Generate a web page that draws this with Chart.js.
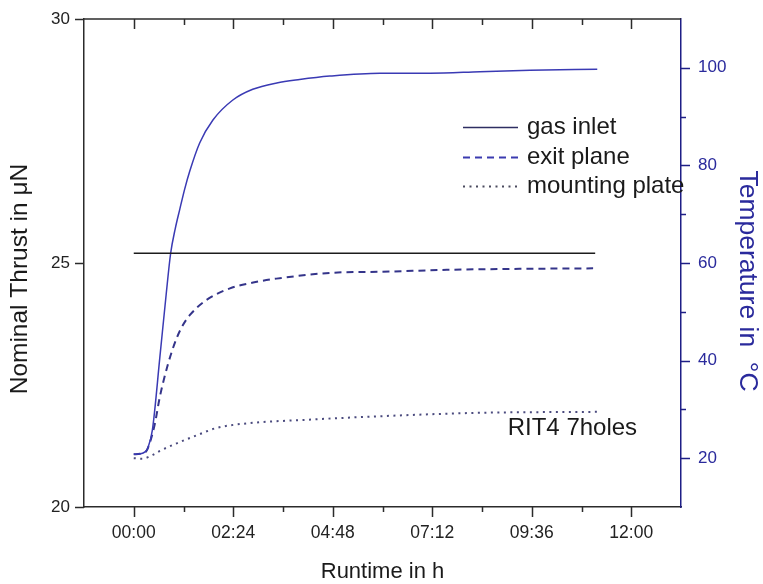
<!DOCTYPE html>
<html lang="en">
<head>
<meta charset="UTF-8">
<title>RIT4 7holes - thrust and temperature</title>
<script src="https://cdn.jsdelivr.net/npm/chart.js"></script>
<style>
    body { margin: 0; padding: 0; background: #fff; }
    canvas { display: block; }
</style>
</head>
<body>
<canvas id="myChart" width="763" height="584"></canvas>
<script>
// Runtime in hours
const thrustTime  = [0, 11.13];
const thrustValue = [25.2, 25.2];

const gasInletTime = [0, 0.15, 0.27, 0.34, 0.45, 0.63, 0.78, 0.89, 1.0, 1.11, 1.23, 1.35, 1.59, 1.91, 2.39, 2.87, 3.45, 4.0, 4.73, 5.94, 7.15, 8.35, 9.56, 11.18];
const gasInletTemp = [20.8, 20.9, 21.3, 22.1, 25.8, 40.7, 53.4, 62.0, 67.0, 71.0, 75.2, 78.8, 84.6, 89.3, 93.4, 95.6, 96.9, 97.6, 98.3, 98.9, 98.9, 99.2, 99.5, 99.7];

const exitTime = [0, 0.15, 0.3, 0.4, 0.51, 0.63, 0.83, 1.03, 1.18, 1.35, 1.75, 2.32, 2.88, 3.44, 4.8, 5.94, 7.55, 9.3, 11.08];
const exitTemp = [20.8, 20.9, 21.4, 23.5, 27.1, 32.6, 39.4, 44.5, 47.2, 49.3, 52.4, 54.8, 56.0, 56.8, 58.0, 58.2, 58.6, 58.8, 58.9];

const plateTime = [0, 0.2, 0.46, 0.63, 1.11, 1.55, 2.0, 2.8, 4.0, 5.94, 8.35, 11.2];
const plateTemp = [20.0, 19.9, 20.7, 21.5, 23.3, 24.8, 26.2, 27.2, 27.8, 28.6, 29.3, 29.5];

// Tick labels
const xTickHours  = [0, 2.4, 4.8, 7.2, 9.6, 12];
const xTickLabels = ['00:00', '02:24', '04:48', '07:12', '09:36', '12:00'];
const tempTickLabels = [20, 40, 60, 80, 100];

const legendLabels = ['gas inlet', 'exit plane', 'mounting plate'];
const legendColors = ['#2e2e62', '#3b3bb0', '#4a4a5e'];

const FONT = "'Liberation Sans', Arial, sans-serif";
const AXIS_DARK = '#2b2b2b';
const AXIS_BLUE = '#1e1e86';

function pts(xs, ys) {
    return xs.map((x, i) => ({ x: x, y: ys[i] }));
}

// invisible library ticks: they only push the labels away from the axis
function hiddenGrid(len) {
    return { display: true, drawOnChartArea: false, drawTicks: true, tickLength: len, tickColor: 'rgba(0,0,0,0)' };
}

// Ticks, top frame line, rotated axis titles, legend and label
const framePlugin = {
    id: 'frame',
    afterDraw(chart) {
        const ctx = chart.ctx;
        const area = chart.chartArea;
        const xs = chart.scales.x;
        const yl = chart.scales.y;
        const yr = chart.scales.y2;

        ctx.save();
        // top frame line
        ctx.strokeStyle = AXIS_DARK;
        ctx.lineWidth = 1.5;
        ctx.beginPath();
        ctx.moveTo(area.left, area.top);
        ctx.lineTo(area.right, area.top);
        ctx.stroke();

        // x ticks: bottom outward, top inward
        xs.ticks.forEach(t => {
            if (t.value <= xs.min + 1e-6 || t.value >= xs.max - 1e-6) return;
            const px = Math.round(xs.getPixelForValue(t.value)) + 0.5;
            const major = xTickHours.some(h => Math.abs(h - t.value) < 1e-6);
            ctx.beginPath();
            ctx.moveTo(px, area.bottom);
            ctx.lineTo(px, area.bottom + (major ? 10 : 5));
            ctx.moveTo(px, area.top);
            ctx.lineTo(px, area.top + (major ? 10 : 6));
            ctx.stroke();
        });

        // left ticks, outward
        yl.ticks.forEach(t => {
            const py = Math.round(yl.getPixelForValue(t.value)) + 0.5;
            ctx.beginPath();
            ctx.moveTo(area.left, py);
            ctx.lineTo(area.left - 9, py);
            ctx.stroke();
        });

        // right ticks, outward
        ctx.strokeStyle = AXIS_BLUE;
        yr.ticks.forEach(t => {
            if (t.value <= yr.min || t.value >= yr.max) return;
            const py = Math.round(yr.getPixelForValue(t.value)) + 0.5;
            const major = tempTickLabels.includes(t.value);
            ctx.beginPath();
            ctx.moveTo(area.right, py);
            ctx.lineTo(area.right + (major ? 9 : 5), py);
            ctx.stroke();
        });

        // axis titles
        ctx.textAlign = 'center';
        ctx.textBaseline = 'middle';
        ctx.fillStyle = '#1a1a1a';
        ctx.font = '24.5px ' + FONT;
        ctx.save();
        ctx.translate(20, 279);
        ctx.rotate(-Math.PI / 2);
        ctx.fillText('Nominal Thrust in \u03bcN', 0, 0);
        ctx.restore();

        ctx.fillStyle = '#2a2a9c';
        ctx.font = '26.5px ' + FONT;
        ctx.save();
        ctx.translate(747, 281);
        ctx.rotate(Math.PI / 2);
        ctx.fillText('Temperature in  \u00b0C', 0, 0);
        ctx.restore();

        // legend
        ctx.font = '24px ' + FONT;
        const lx0 = area.left + 379;
        const lx1 = area.left + 434;
        const rows = [127, 157, 186];
        ctx.textAlign = 'left';
        chart.data.datasets.slice(1).forEach((ds, i) => {
            const y = rows[i] + 0.5;
            ctx.strokeStyle = legendColors[i];
            ctx.lineWidth = ds.borderWidth;
            ctx.setLineDash(ds.borderDash || []);
            ctx.beginPath();
            ctx.moveTo(lx0, y);
            ctx.lineTo(lx1, y);
            ctx.stroke();
            ctx.setLineDash([]);
            ctx.fillStyle = '#1a1a1a';
            ctx.fillText(legendLabels[i], lx1 + 9, rows[i]);
        });

        // sample label
        ctx.textBaseline = 'alphabetic';
        ctx.fillStyle = '#1a1a1a';
        ctx.fillText('RIT4 7holes', xs.getPixelForValue(9.02), yr.getPixelForValue(24.8));
        ctx.restore();
    }
};

const ctx = document.getElementById('myChart').getContext('2d');
const myChart = new Chart(ctx, {
    type: 'line',
    data: {
        datasets: [
            {
                label: 'Nominal thrust',
                data: pts(thrustTime, thrustValue),
                yAxisID: 'y',
                borderColor: '#1c1c1c',
                borderWidth: 1.5,
                pointRadius: 0
            },
            {
                label: 'gas inlet',
                data: pts(gasInletTime, gasInletTemp),
                yAxisID: 'y2',
                borderColor: '#3a3ab4',
                borderWidth: 1.5,
                pointRadius: 0,
                cubicInterpolationMode: 'monotone'
            },
            {
                label: 'exit plane',
                data: pts(exitTime, exitTemp),
                yAxisID: 'y2',
                borderColor: '#34348a',
                borderWidth: 2,
                borderDash: [7, 5],
                pointRadius: 0,
                cubicInterpolationMode: 'monotone'
            },
            {
                label: 'mounting plate',
                data: pts(plateTime, plateTemp),
                yAxisID: 'y2',
                borderColor: '#4a4a7e',
                borderWidth: 2,
                borderDash: [2, 4.5],
                pointRadius: 0,
                cubicInterpolationMode: 'monotone'
            }
        ]
    },
    options: {
        responsive: false,
        animation: false,
        layout: { padding: { top: 19, left: 0, right: 0, bottom: 0 } },
        plugins: {
            legend: { display: false },
            tooltip: { enabled: false }
        },
        scales: {
            x: {
                type: 'linear',
                position: 'bottom',
                min: -1.2,
                max: 13.2,
                afterFit(scale) { scale.height = 77; },
                grid: hiddenGrid(16),
                border: { display: true, color: AXIS_DARK, width: 1.5 },
                ticks: {
                    stepSize: 1.2,
                    autoSkip: false,
                    maxRotation: 0,
                    padding: 0,
                    color: '#222',
                    font: { family: FONT, size: 17.5 },
                    callback: v => {
                        const i = xTickHours.findIndex(h => Math.abs(h - v) < 1e-6);
                        return i >= 0 ? xTickLabels[i] : '';
                    }
                },
                title: {
                    display: true,
                    text: 'Runtime in h',
                    color: '#1a1a1a',
                    font: { family: FONT, size: 22, lineHeight: 1.0 },
                    padding: { top: 0, bottom: 1 }
                }
            },
            y: {
                position: 'left',
                min: 20,
                max: 30,
                afterFit(scale) { scale.width = 84; },
                grid: hiddenGrid(14),
                border: { display: true, color: AXIS_DARK, width: 1.5 },
                ticks: {
                    stepSize: 5,
                    padding: 0,
                    color: '#222',
                    font: { family: FONT, size: 17 }
                }
            },
            y2: {
                position: 'right',
                min: 10,
                max: 110,
                afterFit(scale) { scale.width = 82; },
                grid: hiddenGrid(17),
                border: { display: true, color: AXIS_BLUE, width: 1.5 },
                ticks: {
                    stepSize: 10,
                    padding: 0,
                    color: '#2a2a9c',
                    font: { family: FONT, size: 17 },
                    callback: v => tempTickLabels.includes(v) ? String(v) : ''
                }
            }
        }
    },
    plugins: [framePlugin]
});
</script>
</body>
</html>
